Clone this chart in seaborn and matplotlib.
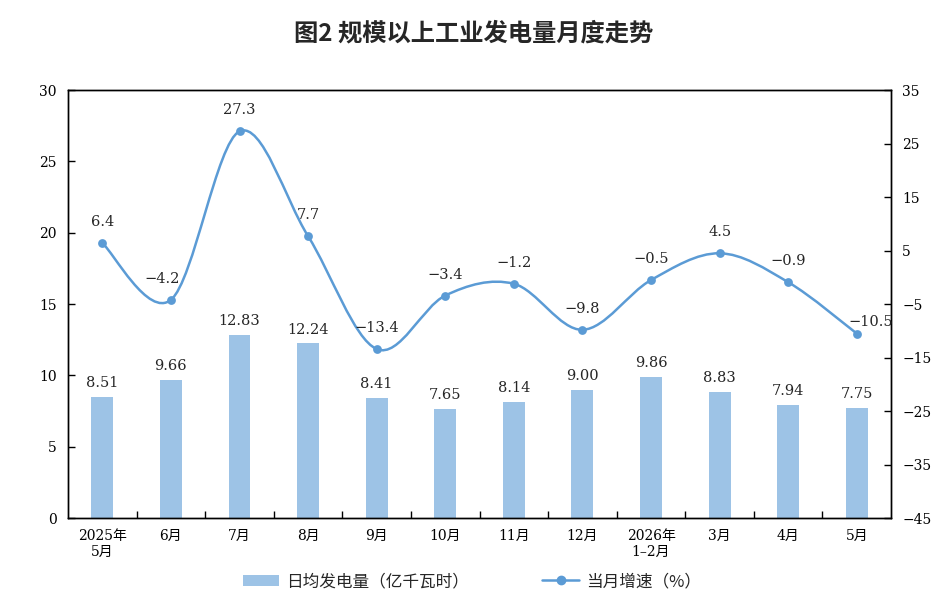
import numpy as np
import pandas as pd
import seaborn as sns
import matplotlib.pyplot as plt
from matplotlib.path import Path
from matplotlib.patches import PathPatch, Patch
from matplotlib.lines import Line2D

months = ['2025年\n5月', '6月', '7月', '8月', '9月', '10月', '11月', '12月',
          '2026年\n1–2月', '3月', '4月', '5月']
daily_output = [8.51, 9.66, 12.83, 12.24, 8.41, 7.65, 8.14, 9.00, 9.86, 8.83, 7.94, 7.75]
growth = [6.4, -4.2, 27.3, 7.7, -13.4, -3.4, -1.2, -9.8, -0.5, 4.5, -0.9, -10.5]

df = pd.DataFrame({'month': months, 'output': daily_output, 'growth': growth})

bar_color = '#9DC3E6'
line_color = '#5B9BD5'

sns.set_theme(style='ticks')
plt.rcParams['font.family'] = ['DejaVu Serif', 'Noto Sans CJK SC']
plt.rcParams['axes.unicode_minus'] = True

fig = plt.figure(figsize=(9.53, 6.01), dpi=100)
ax = fig.add_axes([0.0714, 0.138, 0.8636, 0.712])

sns.barplot(data=df, x='month', y='output', color=bar_color, width=0.32,
            saturation=1, linewidth=0, ax=ax, zorder=2)
ax.set_xlim(-0.5, 11.5)
ax.set_ylim(0, 30)
ax.set_yticks(range(0, 31, 5))
ax.set_xlabel('')
ax.set_ylabel('')

for i, v in enumerate(daily_output):
    ax.annotate(f'{v:.2f}', (i, v), xytext=(0, 5), textcoords='offset points',
                ha='center', va='bottom', fontsize=10.5)

ax2 = ax.twinx()
ax2.set_ylim(-45, 35)
ax2.set_yticks(range(-45, 36, 10))

# smooth curve through the points (Catmull-Rom as cubic Bezier)
n = len(growth)
pts = np.column_stack([np.arange(n), growth]).astype(float)
verts = [pts[0]]
codes = [Path.MOVETO]
for i in range(n - 1):
    p_prev = pts[i - 1] if i > 0 else pts[i]
    p_next2 = pts[i + 2] if i + 2 < n else pts[i + 1]
    c1 = pts[i] + (pts[i + 1] - p_prev) / 6
    c2 = pts[i + 1] - (p_next2 - pts[i]) / 6
    verts += [c1, c2, pts[i + 1]]
    codes += [Path.CURVE4] * 3
ax2.add_patch(PathPatch(Path(verts, codes), facecolor='none', edgecolor=line_color,
                        lw=1.8, zorder=3))
sns.scatterplot(x=np.arange(n), y=growth, color=line_color, s=40, edgecolor=line_color,
                linewidth=0, ax=ax2, zorder=4)

offsets = {1: (-6, 10), 11: (10, 3)}
for i, v in enumerate(growth):
    dx, dy = offsets.get(i, (0, 10))
    ax2.annotate(f'{v:.1f}'.replace('-', '−'), (i, v), xytext=(dx, dy),
                 textcoords='offset points', ha='center', va='bottom', fontsize=10.5)

for a in (ax, ax2):
    for s in a.spines.values():
        s.set_visible(True)
        s.set_color('black')
        s.set_linewidth(1.0)
    a.tick_params(axis='y', direction='in', length=5, width=1, labelsize=10, colors='black')

ax.tick_params(axis='y', pad=8)
ax2.tick_params(axis='y', pad=8)
ax.tick_params(axis='x', length=0, labelsize=10, pad=8, colors='black')
ax.set_xticks(np.arange(0.5, 11, 1), minor=True)
ax.tick_params(axis='x', which='minor', direction='in', length=5, width=1, color='black')

fig.suptitle('图2 规模以上工业发电量月度走势', x=0.497, y=0.965, fontsize=17.5,
             fontweight='bold', family=['Noto Sans CJK SC'])

handles = [Patch(facecolor=bar_color, edgecolor='none'),
           Line2D([], [], color=line_color, lw=1.8, marker='o', markersize=6)]
fig.legend(handles, ['日均发电量（亿千瓦时）', '当月增速（%）'], loc='center',
           bbox_to_anchor=(0.495, 0.032), ncol=2, frameon=False, columnspacing=4.4,
           handlelength=2.2, handletextpad=0.4,
           prop={'family': ['Noto Sans CJK SC'], 'size': 12})

fig.savefig('out.png', dpi=100)
